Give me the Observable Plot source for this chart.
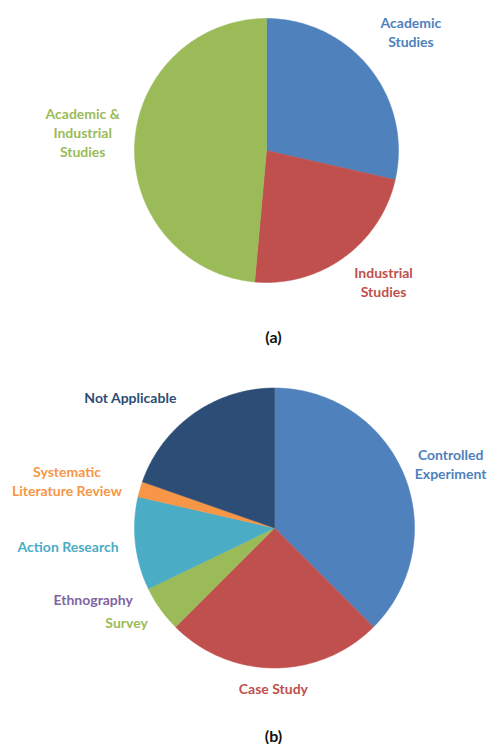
<!DOCTYPE html>
<html><head><meta charset="utf-8">
<script src="https://cdn.jsdelivr.net/npm/d3@7"></script>
<script src="https://cdn.jsdelivr.net/npm/@observablehq/plot@0.6"></script>
<style>body{margin:0;background:#fff;} #chart svg{display:block;}</style>
</head><body><div id="chart"></div>
<script>
// ---- data: chart (a)
const studyTypes = ["Academic Studies", "Industrial Studies", "Academic & Industrial Studies"];
const studyLabels = ["Academic\nStudies", "Industrial\nStudies", "Academic &\nIndustrial\nStudies"];
const studyCounts = [10, 8, 17];
const studyColors = ["#4F81BD", "#C0504D", "#9BBB59"];

// ---- data: chart (b)
const methods = ["Controlled Experiment", "Case Study", "Survey", "Ethnography", "Action Research", "Systematic Literature Review", "Not Applicable"];
const methodLabels = ["Controlled\nExperiment", "Case Study", "Survey", "Ethnography", "Action Research", "Systematic\nLiterature Review", "Not Applicable"];
const methodCounts = [21, 14, 3, 0, 6, 1, 11];
const methodColors = ["#4F81BD", "#C0504D", "#9BBB59", "#8064A2", "#4BACC6", "#F79646", "#2C4D75"];

// ---- layout: label placement (polar, degrees clockwise from top, radius in pie radii)
const studyLabelAngle = [50.4, 138.2, 275.9];
const studyLabelDist = [1.42, 1.33, 1.40];
const methodLabelAngle = [69.9, 180.4, 237.7, 248.7, 265, 282.8, 312.2];
const methodLabelDist = [1.34, 1.14, 1.25, 1.39, 1.48, 1.52, 1.39];

function slicePoints(names, counts) {
  const total = d3.sum(counts);
  let acc = 0;
  const pts = [];
  names.forEach((n, i) => {
    const a0 = acc / total * 2 * Math.PI;
    acc += counts[i];
    const a1 = acc / total * 2 * Math.PI;
    if (counts[i] === 0) return;
    pts.push({name: n, x: 0, y: 0});
    const steps = Math.max(2, Math.ceil((a1 - a0) / (Math.PI / 180)));
    for (let k = 0; k <= steps; k++) {
      const a = a0 + (a1 - a0) * k / steps;
      pts.push({name: n, x: Math.sin(a), y: Math.cos(a)});
    }
    pts.push({name: n, x: 0, y: 0});
  });
  return pts;
}

function labelPoints(names, labels, angles, dists) {
  return names.map((n, i) => {
    const a = angles[i] * Math.PI / 180;
    return {name: n, label: labels[i], x: dists[i] * Math.sin(a), y: dists[i] * Math.cos(a)};
  });
}

function pie({names, labels, counts, colors, angles, dists, caption, height, marginTop, marginLeft, radiusPx, captionDy, captionDx}) {
  return Plot.plot({
    width: 492,
    height,
    marginTop,
    marginLeft,
    marginRight: 492 - marginLeft - 2 * radiusPx,
    marginBottom: height - marginTop - 2 * radiusPx,
    x: {domain: [-1, 1], axis: null},
    y: {domain: [-1, 1], axis: null},
    color: {domain: names, range: colors},
    style: {fontFamily: "Lato, 'Open Sans', sans-serif", overflow: "visible", background: "#fff"},
    marks: [
      Plot.line(slicePoints(names, counts), {x: "x", y: "y", z: "name", fill: "name", stroke: "name", strokeWidth: 0.5, curve: "linear"}),
      Plot.text(labelPoints(names, labels, angles, dists), {x: "x", y: "y", text: "label", fill: "name", fontSize: 14, fontWeight: "bold", lineHeight: 1.36}),
      Plot.text([caption], {text: d => d, frameAnchor: "bottom", dy: captionDy, dx: captionDx, fontSize: 16, fontWeight: "bold", fill: "#111"})
    ]
  });
}

const chart = document.getElementById("chart");
chart.append(pie({
  names: studyTypes, labels: studyLabels, counts: studyCounts, colors: studyColors,
  angles: studyLabelAngle, dists: studyLabelDist, caption: "(a)",
  height: 360, marginTop: 18, marginLeft: 134, radiusPx: 132, captionDy: 60, captionDx: 7
}));
chart.append(pie({
  names: methods, labels: methodLabels, counts: methodCounts, colors: methodColors,
  angles: methodLabelAngle, dists: methodLabelDist, caption: "(b)",
  height: 384, marginTop: 27.5, marginLeft: 134, radiusPx: 140, captionDy: 74, captionDx: -1
}));
</script>
</body></html>
